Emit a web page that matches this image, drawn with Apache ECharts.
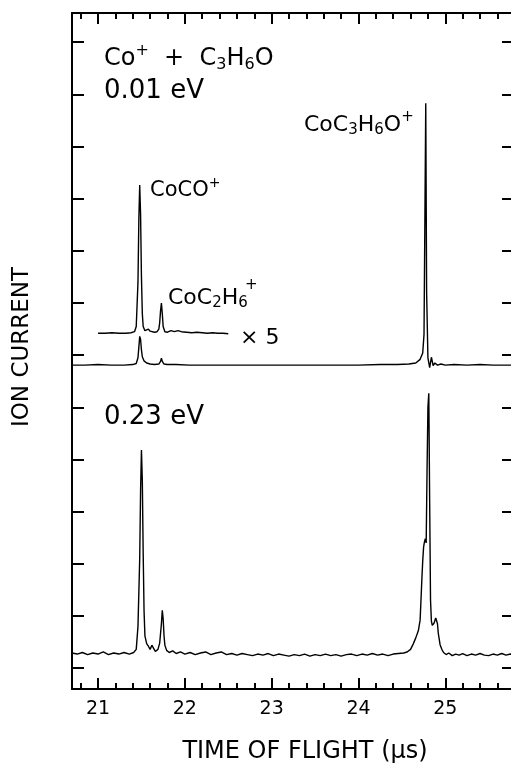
<!DOCTYPE html>
<html>
<head>
<meta charset="utf-8">
<script src="https://cdn.jsdelivr.net/npm/echarts@6/dist/echarts.min.js"></script>
<style>
  html, body { margin: 0; padding: 0; background: #fff; }
  #tof { width: 511px; height: 764px; }
</style>
</head>
<body>
<div id="tof"></div>
<script>
// axis ticks
var majorTicks = [21, 22, 23, 24, 25];
var minorTicks = [20.8, 21.2, 21.4, 21.6, 21.8, 22.2, 22.4, 22.6, 22.8, 23.2, 23.4, 23.6, 23.8,
                  24.2, 24.4, 24.6, 24.8, 25.2, 25.4, 25.6];
var currentTicks = [0, 1, 2, 3, 4, 5, 6, 7, 8, 9, 10, 11, 12];

// 0.01 eV trace
var upperTime = [20.70, 20.85, 21.00, 21.15, 21.30, 21.40, 21.44, 21.46, 21.47, 21.48,
                 21.49, 21.50, 21.51, 21.53, 21.56, 21.60, 21.65, 21.70, 21.72, 21.73,
                 21.74, 21.76, 21.80, 21.90, 22.05, 22.25, 22.50, 22.75, 23.00, 23.25,
                 23.50, 23.75, 24.00, 24.25, 24.45, 24.58, 24.66, 24.71, 24.74, 24.755,
                 24.765, 24.775, 24.785, 24.80, 24.82, 24.84, 24.86, 24.88, 24.91, 24.95,
                 25.00, 25.10, 25.25, 25.40, 25.55, 25.70, 25.78];
var upperCurrent = [5.81, 5.81, 5.82, 5.81, 5.81, 5.82, 5.84, 5.95, 6.15, 6.36,
                    6.30, 6.10, 5.97, 5.89, 5.85, 5.83, 5.82, 5.83, 5.88, 5.94,
                    5.88, 5.83, 5.82, 5.82, 5.81, 5.81, 5.81, 5.81, 5.81, 5.81,
                    5.81, 5.81, 5.81, 5.82, 5.82, 5.83, 5.85, 5.92, 6.04, 6.40,
                    8.60, 10.83, 7.20, 5.95, 5.76, 5.96, 5.80, 5.85, 5.81, 5.83,
                    5.81, 5.82, 5.81, 5.82, 5.81, 5.81, 5.81];

// 0.01 eV, x 5 expansion
var x5Time = [21.00, 21.08, 21.16, 21.24, 21.32, 21.38, 21.42, 21.44, 21.46, 21.47,
              21.48, 21.49, 21.50, 21.51, 21.52, 21.54, 21.56, 21.58, 21.60, 21.62,
              21.65, 21.68, 21.70, 21.71, 21.72, 21.73, 21.74, 21.75, 21.77, 21.80,
              21.84, 21.88, 21.92, 21.96, 22.02, 22.08, 22.14, 22.20, 22.26, 22.32,
              22.38, 22.44, 22.50];
var x5Current = [6.42, 6.42, 6.43, 6.42, 6.42, 6.43, 6.45, 6.55, 7.40, 8.60,
                 9.26, 8.70, 7.50, 6.80, 6.55, 6.47, 6.44, 6.50, 6.46, 6.43,
                 6.44, 6.45, 6.50, 6.62, 6.85, 7.00, 6.80, 6.55, 6.45, 6.44,
                 6.47, 6.45, 6.47, 6.45, 6.44, 6.43, 6.44, 6.43, 6.42, 6.43,
                 6.42, 6.42, 6.41];

// 0.23 eV trace
var lowerTime = [20.70, 20.76, 20.82, 20.88, 20.94, 21.00, 21.06, 21.12, 21.18, 21.24,
                 21.30, 21.36, 21.41, 21.44, 21.46, 21.48, 21.49, 21.50, 21.51, 21.52,
                 21.53, 21.54, 21.56, 21.58, 21.60, 21.62, 21.64, 21.66, 21.69, 21.71,
                 21.73, 21.74, 21.75, 21.76, 21.77, 21.79, 21.82, 21.86, 21.90, 21.95,
                 22.00, 22.06, 22.12, 22.18, 22.24, 22.30, 22.36, 22.42, 22.48, 22.54,
                 22.60, 22.66, 22.72, 22.78, 22.84, 22.90, 22.96, 23.02, 23.08, 23.14,
                 23.20, 23.26, 23.32, 23.38, 23.44, 23.50, 23.56, 23.62, 23.68, 23.74,
                 23.80, 23.86, 23.92, 23.98, 24.04, 24.10, 24.16, 24.22, 24.28, 24.34,
                 24.40, 24.46, 24.52, 24.56, 24.60, 24.63, 24.66, 24.69, 24.71, 24.72,
                 24.73, 24.74, 24.75, 24.76, 24.77, 24.78, 24.79, 24.80, 24.81, 24.82,
                 24.83, 24.84, 24.85, 24.87, 24.89, 24.90, 24.91, 24.92, 24.94, 24.96,
                 24.98, 25.01, 25.04, 25.08, 25.12, 25.16, 25.20, 25.25, 25.30, 25.35,
                 25.40, 25.45, 25.50, 25.55, 25.60, 25.65, 25.70, 25.75, 25.78];
var lowerCurrent = [0.29, 0.27, 0.30, 0.26, 0.29, 0.27, 0.31, 0.26, 0.29, 0.27,
                    0.30, 0.27, 0.30, 0.36, 0.80, 2.10, 3.40, 4.18, 3.60, 2.20,
                    1.10, 0.62, 0.47, 0.42, 0.36, 0.44, 0.38, 0.32, 0.36, 0.48,
                    0.85, 1.11, 0.95, 0.62, 0.44, 0.34, 0.30, 0.33, 0.28, 0.31,
                    0.27, 0.30, 0.26, 0.29, 0.31, 0.26, 0.29, 0.31, 0.26, 0.28,
                    0.25, 0.28, 0.26, 0.24, 0.27, 0.25, 0.28, 0.24, 0.27, 0.25,
                    0.23, 0.26, 0.24, 0.27, 0.23, 0.26, 0.24, 0.27, 0.24, 0.26,
                    0.23, 0.26, 0.27, 0.24, 0.27, 0.25, 0.28, 0.25, 0.27, 0.24,
                    0.27, 0.28, 0.29, 0.31, 0.36, 0.46, 0.58, 0.72, 0.92, 1.30,
                    1.70, 2.05, 2.32, 2.42, 2.48, 2.40, 3.80, 5.00, 5.27, 3.20,
                    1.30, 0.90, 0.82, 0.86, 0.96, 0.98, 0.85, 0.66, 0.45, 0.36,
                    0.30, 0.26, 0.29, 0.24, 0.27, 0.25, 0.28, 0.24, 0.27, 0.25,
                    0.28, 0.25, 0.24, 0.27, 0.25, 0.28, 0.25, 0.27, 0.26];

var FONT = '"DejaVu Sans", "Liberation Sans", sans-serif';

//把两个数组拼成 [x, y]
function pairs(xs, ys) {
    var out = [];
    for (var i = 0; i < xs.length; i++) {
        out.push([xs[i], ys[i]]);
    }
    return out;
}

function xAxisOpt(pos, ticks, len, withLine, withLabel) {
    return {
        type: 'value', position: pos, min: 20.7, max: 25.78,
        axisLine: { show: withLine, onZero: false, lineStyle: { color: '#000', width: 2 } },
        axisTick: { show: true, inside: true, length: len, customValues: ticks,
                    lineStyle: { color: '#000', width: 2 } },
        axisLabel: withLabel ? { show: true, customValues: ticks, fontSize: 19, color: '#000',
                                 fontFamily: FONT, margin: 11 } : { show: false },
        splitLine: { show: false }
    };
}

function yAxisOpt(pos, len) {
    return {
        type: 'value', position: pos, min: -0.4, max: 12.56,
        axisLine: { show: true, onZero: false, lineStyle: { color: '#000', width: 2 } },
        axisTick: { show: true, inside: true, length: len, customValues: currentTicks,
                    lineStyle: { color: '#000', width: 2 } },
        axisLabel: { show: false },
        splitLine: { show: false }
    };
}

function richSet(fs) {
    var s = Math.round(fs * 0.68);
    return {
        n: { fontSize: fs, fontFamily: FONT, color: '#000' },
        sup: { fontSize: s, fontFamily: FONT, color: '#000', padding: [0, 0, Math.round(fs * 0.7), 0] },
        sub: { fontSize: s, fontFamily: FONT, color: '#000', padding: [Math.round(fs * 0.5), 0, 0, 0] }
    };
}

function label(x, y, text, fs) {
    return {
        type: 'text', x: x, y: y, silent: true,
        style: {
            text: text, rich: richSet(fs),
            font: fs + 'px ' + FONT, fill: '#000',
            align: 'left', verticalAlign: 'middle',
            textAlign: 'left', textVerticalAlign: 'middle'
        }
    };
}

function lineSeries(name, data) {
    return {
        name: name, type: 'line', xAxisIndex: 0, yAxisIndex: 0,
        showSymbol: false, symbol: 'none', smooth: false,
        lineStyle: { color: '#000', width: 1.4 },
        data: data, animation: false
    };
}

var chart = echarts.init(document.getElementById('tof'), null, { renderer: 'canvas' });
var option = {
    backgroundColor: '#fff',
    animation: false,
    grid: { left: 72, right: -2, top: 13, bottom: 75, outerBoundsMode: 'none' },
    xAxis: [
        xAxisOpt('bottom', majorTicks, 11, true, true),
        xAxisOpt('bottom', minorTicks, 6, false, false),
        xAxisOpt('top', majorTicks, 11, true, false),
        xAxisOpt('top', minorTicks, 6, false, false)
    ],
    yAxis: [
        yAxisOpt('left', 12),
        yAxisOpt('right', 11)
    ],
    series: [
        lineSeries('0.01 eV', pairs(upperTime, upperCurrent)),
        lineSeries('0.01 eV x5', pairs(x5Time, x5Current)),
        lineSeries('0.23 eV', pairs(lowerTime, lowerCurrent))
    ],
    graphic: [
        label(104, 59, '{n|Co}{sup|+}{n|  +  C}{sub|3}{n|H}{sub|6}{n|O}', 24),
        label(104, 91, '{n|0.01 eV}', 26),
        label(304, 125, '{n|CoC}{sub|3}{n|H}{sub|6}{n|O}{sup|+}', 22),
        label(150, 191, '{n|CoCO}{sup|+}', 21),
        label(168, 298, '{n|CoC}{sub|2}{n|H}{sub|6}', 22),
        label(245, 285, '{n|+}', 15),
        label(240, 338, '{n|× 5}', 22),
        label(104, 417, '{n|0.23 eV}', 26),
        {
            type: 'text', x: 305, y: 752, silent: true,
            style: { text: 'TIME OF FLIGHT (μs)', font: '24px ' + FONT, fill: '#000',
                     align: 'center', verticalAlign: 'middle',
                     textAlign: 'center', textVerticalAlign: 'middle' }
        },
        {
            type: 'text', x: 22, y: 347, rotation: Math.PI / 2, silent: true,
            style: { text: 'ION CURRENT', font: '23px ' + FONT, fill: '#000',
                     align: 'center', verticalAlign: 'middle',
                     textAlign: 'center', textVerticalAlign: 'middle' }
        }
    ]
};
chart.setOption(option);
</script>
</body>
</html>
